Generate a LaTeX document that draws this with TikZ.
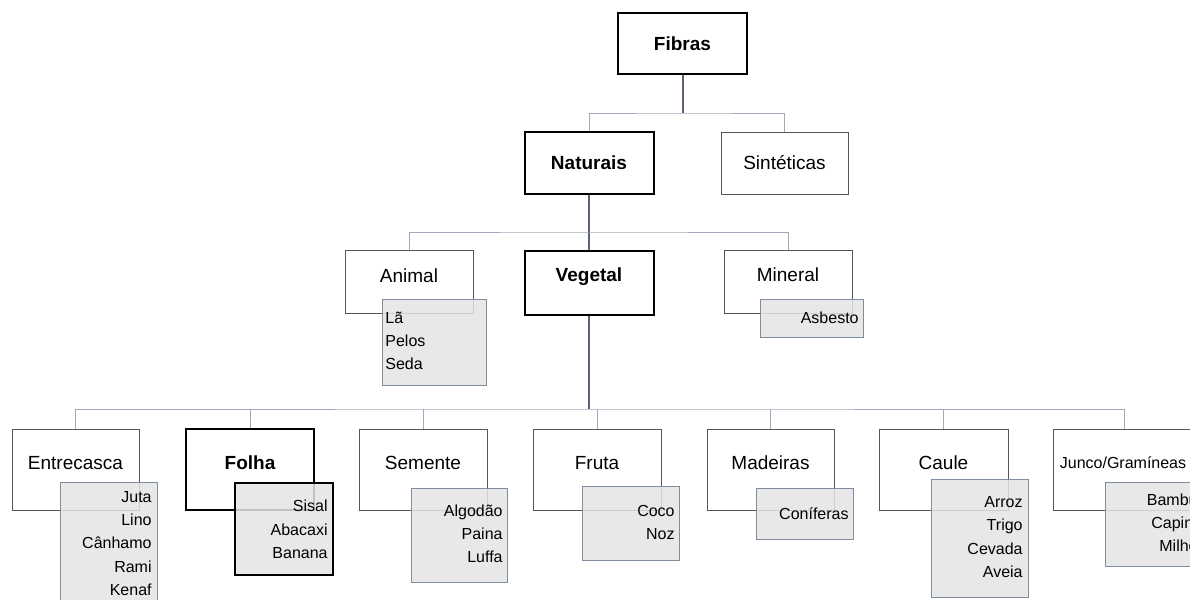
\documentclass[tikz,border=0pt]{standalone}
\usepackage{fontspec}
\setmainfont{Liberation Sans}

\definecolor{linkdark}{RGB}{88,100,118}
\definecolor{linklight}{RGB}{160,170,186}
\definecolor{boxgray}{RGB}{85,85,85}
\definecolor{listedge}{RGB}{128,140,160}
\definecolor{listfill}{RGB}{228,228,228}

\begin{document}
\begin{tikzpicture}[x=0.5pt,y=-0.5pt]

\tikzstyle{thickbox}=[rectangle, draw=black, line width=1pt, fill=white, inner sep=0pt, font=\fontsize{9.5}{11}\selectfont\bfseries]
\tikzstyle{thinbox}=[rectangle, draw=boxgray, line width=0.5pt, fill=white, inner sep=0pt, font=\fontsize{9.5}{11}\selectfont]
\tikzstyle{listbox}=[rectangle, draw=listedge, line width=0.5pt, fill=listfill, fill opacity=0.85, inner sep=0pt]
\tikzstyle{caption}=[inner sep=0pt, font=\fontsize{9.5}{11}\selectfont]
\tikzstyle{items}=[inner sep=0pt, anchor=east, align=right, font=\fontsize{8}{11.6}\selectfont]

\tikzstyle{trunk}=[draw=linkdark, line width=1pt]
\tikzstyle{branch}=[draw=linklight, line width=0.5pt]

\useasboundingbox (0,0) rectangle (1190,600);
\clip (0,0) rectangle (1190,600);

% top levels
\node[thickbox, minimum width=64.5pt, minimum height=30.5pt] (fibras) at (682.5,43.5) {Fibras};
\node[thickbox, minimum width=64.5pt, minimum height=31pt] (naturais) at (589,163) {Naturais};
\node[thinbox, minimum width=63.5pt, minimum height=31pt] (sinteticas) at (784.5,163) {Sintéticas};

\node[thinbox, minimum width=64pt, minimum height=31.5pt] (animal) at (409,281.5) {};
\node[thickbox, minimum width=64.5pt, minimum height=32pt] (vegetal) at (589,283) {};
\node[thinbox, minimum width=64pt, minimum height=31.5pt] (mineral) at (788,281.5) {};

% vegetal groups
\node[thinbox, minimum width=63.5pt, minimum height=40.5pt] (entrecasca) at (75.5,469.5) {};
\node[thickbox, minimum width=64pt, minimum height=40.5pt] (folha) at (250,469.5) {};
\node[thinbox, minimum width=64pt, minimum height=40.5pt] (semente) at (423,469.5) {};
\node[thinbox, minimum width=64pt, minimum height=40.5pt] (fruta) at (597,469.5) {};
\node[thinbox, minimum width=63.5pt, minimum height=40.5pt] (madeiras) at (770.5,469.5) {};
\node[thinbox, minimum width=64.5pt, minimum height=40.5pt] (caule) at (943.5,469.5) {};
\node[thinbox, minimum width=71pt, minimum height=40.5pt] (junco) at (1124,469.5) {};

\coordinate (bus1) at (683,113);
\coordinate (bus2) at (589,232);
\coordinate (bus3) at (589,409);

\draw[trunk] (fibras.south) -- (fibras.south |- bus1);
\draw[branch] (naturais.north) |- (bus1) -| (sinteticas.north);

\draw[trunk] (naturais.south) -- (vegetal.north);
\draw[branch] (animal.north) |- (bus2) -| (mineral.north);

\draw[trunk] (vegetal.south) -- (bus3);
\draw[branch] (entrecasca.north) |- (bus3) -| (junco.north);
\foreach \grp in {folha,semente,fruta,madeiras,caule}
  \draw[branch] (\grp.north) -- (\grp.north |- bus3);

% captions
\node[caption] (animaltxt) at (409,276) {Animal};
\node[caption, font=\fontsize{9.5}{11}\selectfont\bfseries] (vegetaltxt) at (589,277) {Vegetal};
\node[caption] (mineraltxt) at (788,275) {Mineral};

\node[caption] (entrecascatxt) at (75.5,463) {Entrecasca};
\node[caption, font=\fontsize{9.5}{11}\selectfont\bfseries] (folhatxt) at (250,463) {Folha};
\node[caption] (sementetxt) at (423,463) {Semente};
\node[caption] (frutatxt) at (597,463) {Fruta};
\node[caption] (madeirastxt) at (770.5,463) {Madeiras};
\node[caption] (caueltxt) at (943.5,463) {Caule};
\node[caption, font=\fontsize{8}{10}\selectfont] (juncotxt) at (1123,463) {Junco/Gramíneas};

% lists
\node[listbox, minimum width=52pt, minimum height=43pt] (animallist) at (434,342) {};
\node[listbox, minimum width=51.5pt, minimum height=19pt] (minerallist) at (811.5,318) {};

\node[listbox, minimum width=48.5pt, minimum height=65pt] (entrecascalist) at (108.5,547) {};
\node[listbox, draw=black, line width=1pt, minimum width=49pt, minimum height=46pt] (folhalist) at (284,529) {};
\node[listbox, minimum width=48pt, minimum height=47pt] (sementelist) at (459,535) {};
\node[listbox, minimum width=48.5pt, minimum height=37pt] (frutalist) at (630.5,523) {};
\node[listbox, minimum width=48.5pt, minimum height=25.5pt] (madeiraslist) at (804.5,513.5) {};
\node[listbox, minimum width=48.5pt, minimum height=59pt] (caulelist) at (979.5,538) {};
\node[listbox, minimum width=49pt, minimum height=42pt] (juncolist) at (1154,524) {};

\node[items, anchor=west, align=left] (animalitems) at (385,340.7) {Lã\\Pelos\\Seda};
\node[items] (mineralitems) at (859,318) {Asbesto};

\node[items] (entrecascaitems) at (152,543.4) {Juta\\Lino\\Cânhamo\\Rami\\Kenaf};
\node[items] (folhaitems) at (328,529.3) {Sisal\\Abacaxi\\Banana};
\node[items] (sementeitems) at (503,534) {Algodão\\Paina\\Luffa};
\node[items] (frutaitems) at (675,522.5) {Coco\\Noz};
\node[items] (madeirasitems) at (849,514) {Coníferas};
\node[items] (cauleitems) at (1023,537) {Arroz\\Trigo\\Cevada\\Aveia};
\node[items] (juncoitems) at (1198,522.7) {Bambu\\Capim\\Milho};

\end{tikzpicture}
\end{document}
